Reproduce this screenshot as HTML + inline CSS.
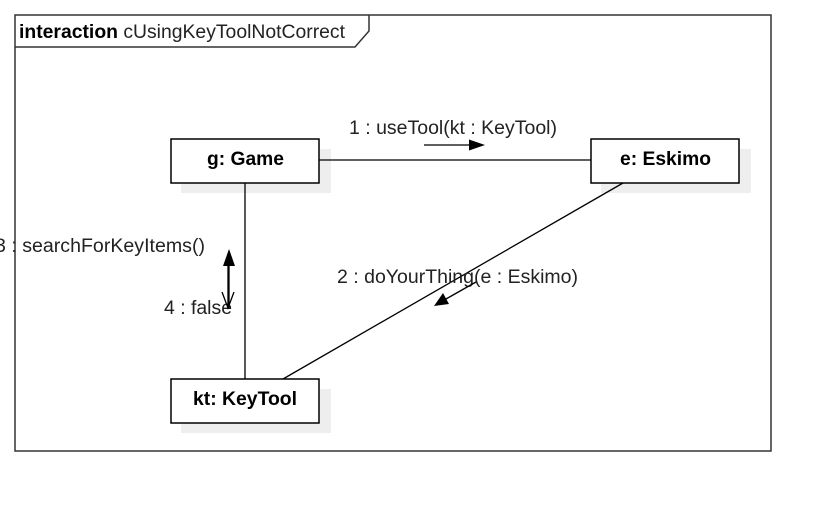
<!DOCTYPE html>
<html><head><style>body{margin:0;background:#fff}svg{display:block}text{font-family:"Liberation Sans",sans-serif;font-size:19px;fill:#222}</style></head>
<body>
<svg width="831" height="511" viewBox="0 0 831 511">
<rect x="15" y="15" width="756" height="436" fill="none" stroke="#333" stroke-width="1.5"/>
<path d="M15 47 H355 L369 31 V15" fill="none" stroke="#333" stroke-width="1.5"/>
<text x="19" y="38" textLength="326" lengthAdjust="spacingAndGlyphs"><tspan font-weight="bold" fill="#000">interaction</tspan> cUsingKeyToolNotCorrect</text>
<rect x="181" y="149" width="150" height="44" fill="#eee"/>
<rect x="601" y="149" width="150" height="44" fill="#eee"/>
<rect x="181" y="389" width="150" height="44" fill="#eee"/>
<line x1="319" y1="160" x2="591" y2="160" stroke="#000" stroke-width="1.3"/>
<line x1="245" y1="183" x2="245" y2="379" stroke="#000" stroke-width="1.3"/>
<line x1="623" y1="183" x2="283" y2="379" stroke="#000" stroke-width="1.3"/>
<rect x="171" y="139" width="148" height="44" fill="#fff" stroke="#000" stroke-width="1.5"/>
<rect x="591" y="139" width="148" height="44" fill="#fff" stroke="#000" stroke-width="1.5"/>
<rect x="171" y="379" width="148" height="44" fill="#fff" stroke="#000" stroke-width="1.5"/>
<text x="207" y="165" textLength="77" lengthAdjust="spacingAndGlyphs" font-weight="bold" style="fill:#000">g: Game</text>
<text x="620" y="165" textLength="91" lengthAdjust="spacingAndGlyphs" font-weight="bold" style="fill:#000">e: Eskimo</text>
<text x="193" y="405" textLength="104" lengthAdjust="spacingAndGlyphs" font-weight="bold" style="fill:#000">kt: KeyTool</text>
<text x="349" y="134" textLength="208" lengthAdjust="spacingAndGlyphs">1 : useTool(kt : KeyTool)</text>
<line x1="424" y1="145" x2="470" y2="145" stroke="#000" stroke-width="1.3"/>
<polygon points="485,145 469,139.5 469,150.5" fill="#000"/>
<text x="337" y="283" textLength="241" lengthAdjust="spacingAndGlyphs">2 : doYourThing(e : Eskimo)</text>
<line x1="476" y1="282" x2="446" y2="299" stroke="#000" stroke-width="1.3"/>
<polygon points="434,306 443,293 449,304" fill="#000"/>
<text x="-5" y="252" textLength="210" lengthAdjust="spacingAndGlyphs">3 : searchForKeyItems()</text>
<text x="164" y="314" textLength="68" lengthAdjust="spacingAndGlyphs">4 : false</text>
<line x1="229" y1="264" x2="229" y2="308" stroke="#000" stroke-width="1.3"/>
<polygon points="229,249 223,266 235,266" fill="#000"/>
<line x1="228" y1="262" x2="228" y2="308" stroke="#000" stroke-width="1.3"/>
<polyline points="222,292 228,308 234,292" fill="none" stroke="#000" stroke-width="1.3"/>
</svg>
</body></html>
